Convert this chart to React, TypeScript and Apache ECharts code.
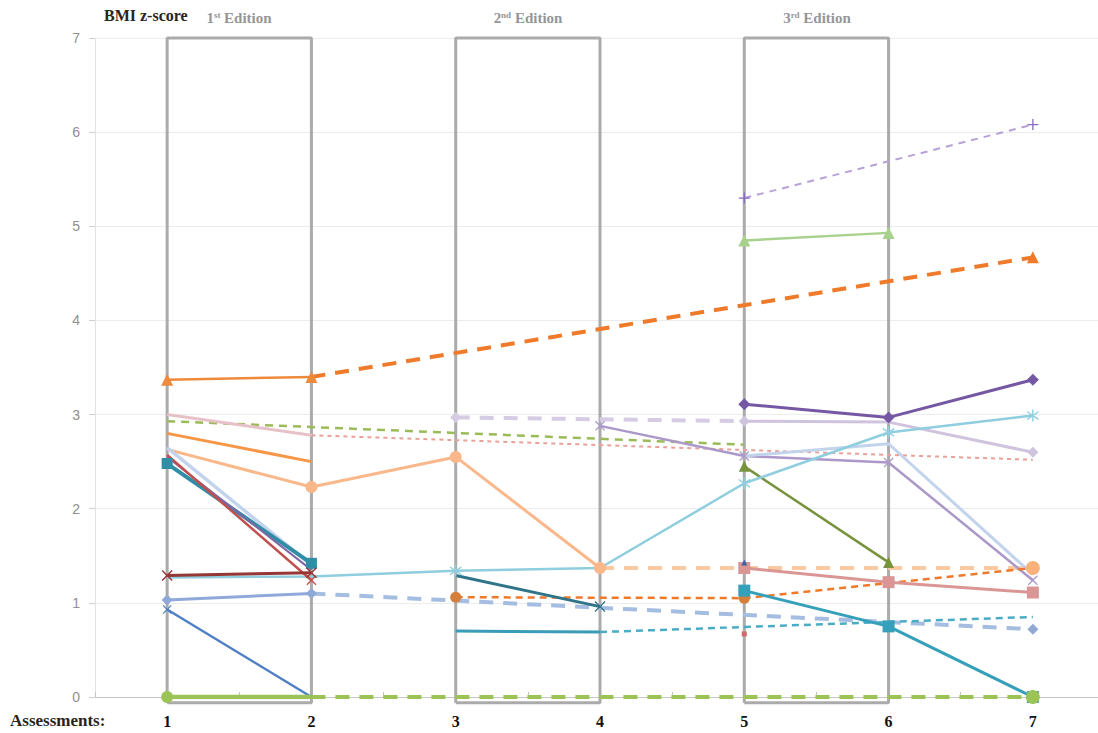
import React, { useEffect, useRef } from "react";
import * as echarts from "echarts";

const N = null;
const assessments = ["1", "2", "3", "4", "5", "6", "7"];
const yTicks = { min: 0, max: 7, step: 1 };

// BMI z-score series (index = assessment 1..7)
const orangeTriEarly = [3.37, 3.4, N, N, N, N, N];
const orangeTriTrend = [N, 3.4, N, N, N, N, 4.67];
const lavenderPlus = [N, N, N, N, 5.3, N, 6.08];
const greenTri = [N, N, N, N, 4.85, 4.93, N];
const purpleDiamond = [N, N, N, N, 3.11, 2.97, 3.37];
const cyanStar = [1.27, 1.28, 1.34, 1.37, 2.27, 2.81, 2.99];
const lavenderTrend = [N, N, 2.97, N, 2.93, N, N];
const lavenderDiamond = [N, N, N, N, 2.93, 2.92, 2.6];
const pinkEarly = [3.0, 2.78, N, N, N, N, N];
const pinkTrend = [N, 2.78, N, N, N, N, 2.52];
const greenTrend = [2.93, N, N, N, 2.68, N, N];
const oliveTri = [N, N, N, N, 2.45, 1.43, N];
const orangeLine = [2.8, 2.5, N, N, N, N, N];
const peachCircle = [2.63, 2.23, 2.55, 1.37, N, N, N];
const peachTrend = [N, N, N, 1.37, N, N, 1.37];
const lightBlueEarly = [2.65, 1.4, N, N, N, N, N];
const purpleEarly = [2.55, 1.35, N, N, N, N, N];
const redEarly = [2.57, 1.24, N, N, N, N, N];
const tealSquareEarly = [2.48, 1.42, N, N, N, N, N];
const maroonX = [1.29, 1.32, N, N, N, N, N];
const periDiamond = [1.03, 1.1, N, N, N, N, N];
const periTrend = [N, 1.1, N, N, N, N, 0.72];
const blueLine = [0.93, 0.0, N, N, N, N, N];
const darkTealX = [N, N, 1.29, 0.96, N, N, N];
const orangeCircleTrend = [N, N, 1.06, N, 1.05, N, 1.37];
const tealFlat = [N, N, 0.7, 0.69, N, N, N];
const tealTrend = [N, N, N, 0.69, N, N, 0.85];
const tealSquareLate = [N, N, N, N, 1.13, 0.75, 0.0];
const roseSquare = [N, N, N, N, 1.37, 1.22, 1.11];
const purpleLate = [N, N, N, 2.88, 2.56, 2.49, 1.24];
const lightBlueLate = [N, N, N, N, 2.56, 2.69, 1.3];
const greenCircle = [0.0, 0.0, N, N, N, N, N];
const greenCircleTrend = [N, 0.0, N, N, N, N, 0.0];
const redDot = [N, N, N, N, 0.67, N, N];
const navyDot = [N, N, N, N, 1.43, N, N];

const editions = ["1st Edition", "2nd Edition", "3rd Edition"];
const editionSpans = [[0, 1], [2, 3], [4, 5]];

const PLUS = "path://M4.4,0H5.6V4.4H10V5.6H5.6V10H4.4V5.6H0V4.4H4.4Z";
const XMARK = "path://M0,0.9L0.9,0L5,4.1L9.1,0L10,0.9L5.9,5L10,9.1L9.1,10L5,5.9L0.9,10L0,9.1L4.1,5Z";
const STAR = "path://M4.45,0H5.55V10H4.45Z M0.5,2.3L1.05,1.35L9.5,7.7L8.95,8.65Z M0.5,7.7L1.05,8.65L9.5,2.3L8.95,1.35Z";

type Cfg = {
  data: (number | null)[];
  color: string;
  width: number;
  dash?: number[];
  symbol?: string;
  size?: number;
  marks?: number[];
  markColor?: string;
};

const configs: Cfg[] = [
  { data: greenTrend, color: "#9bbb59", width: 2.5, dash: [8, 6] },
  { data: pinkTrend, color: "#e8a09a", width: 2, dash: [4, 4] },
  { data: pinkEarly, color: "#e6c1c8", width: 3 },
  { data: orangeTriTrend, color: "#ef7b2a", width: 4, dash: [14, 10], symbol: "triangle", size: 12, marks: [6] },
  { data: orangeTriEarly, color: "#ee8a3c", width: 2.5, symbol: "triangle", size: 12, marks: [0, 1] },
  { data: lavenderPlus, color: "#b7a2d8", width: 2, dash: [7, 6], symbol: PLUS, size: 11, marks: [4, 6], markColor: "#8a6cbf" },
  { data: greenTri, color: "#a9d18e", width: 2.5, symbol: "triangle", size: 12, marks: [4, 5] },
  { data: lavenderTrend, color: "#d5cbe3", width: 4, dash: [14, 10], symbol: "diamond", size: 11, marks: [2] },
  { data: lavenderDiamond, color: "#cfc3de", width: 3, symbol: "diamond", size: 11, marks: [4, 6] },
  { data: orangeLine, color: "#f79646", width: 3 },
  { data: peachTrend, color: "#fac9a0", width: 4, dash: [14, 10], symbol: "circle", size: 14, marks: [6], markColor: "#f9b27a" },
  { data: peachCircle, color: "#fab88a", width: 3, symbol: "circle", size: 12, marks: [1, 2, 3] },
  { data: purpleLate, color: "#ab98c9", width: 2.5, symbol: XMARK, size: 10, marks: [3, 4, 5, 6] },
  { data: lightBlueLate, color: "#c2d3ec", width: 3 },
  { data: purpleDiamond, color: "#7458a3", width: 3, symbol: "diamond", size: 12, marks: [4, 5, 6] },
  { data: oliveTri, color: "#77933c", width: 2.5, symbol: "triangle", size: 11, marks: [4, 5] },
  { data: cyanStar, color: "#8fcede", width: 2.5, symbol: STAR, size: 12, marks: [2, 4, 5, 6] },
  { data: lightBlueEarly, color: "#c2d3ec", width: 3.5 },
  { data: tealSquareEarly, color: "#2f8ea6", width: 4, symbol: "rect", size: 11, marks: [0, 1] },
  { data: purpleEarly, color: "#7f65a5", width: 2 },
  { data: redEarly, color: "#c0504d", width: 2.5, symbol: XMARK, size: 10, marks: [1] },
  { data: maroonX, color: "#953735", width: 3, symbol: XMARK, size: 11, marks: [0, 1] },
  { data: periTrend, color: "#a5bde0", width: 4, dash: [14, 10], symbol: "diamond", size: 11, marks: [6], markColor: "#92a9d6" },
  { data: periDiamond, color: "#8fa9d8", width: 3, symbol: "diamond", size: 11, marks: [0, 1] },
  { data: blueLine, color: "#4f7fc4", width: 2.5, symbol: XMARK, size: 9, marks: [0] },
  { data: orangeCircleTrend, color: "#ee7a2b", width: 2.5, dash: [7, 5], symbol: "circle", size: 11, marks: [2, 4], markColor: "#d4803c" },
  { data: darkTealX, color: "#2f7489", width: 3, symbol: XMARK, size: 11, marks: [3] },
  { data: tealTrend, color: "#4bacc6", width: 2.5, dash: [7, 5] },
  { data: tealFlat, color: "#3a9cb8", width: 3 },
  { data: roseSquare, color: "#d99694", width: 3, symbol: "rect", size: 12, marks: [4, 5, 6] },
  { data: tealSquareLate, color: "#36a0ba", width: 3, symbol: "rect", size: 12, marks: [4, 5, 6] },
  { data: greenCircleTrend, color: "#9bc356", width: 4, dash: [14, 10], symbol: "circle", size: 14, marks: [6] },
  { data: greenCircle, color: "#9bc356", width: 4.5, symbol: "circle", size: 12, marks: [0] },
  { data: redDot, color: "#d06a6a", width: 0, symbol: "rect", size: 5, marks: [4] },
  { data: navyDot, color: "#3f5fa8", width: 0, symbol: "triangle", size: 6, marks: [4] },
];

function buildSeries() {
  const boxes = editionSpans.map(([a, b]) => ({
    type: "line",
    data: [[a, -0.06], [a, yTicks.max], [b, yTicks.max], [b, -0.06], [a, -0.06]],
    symbol: "none",
    clip: false,
    lineStyle: { color: "#ababab", width: 3 },
    z: 1,
    silent: true,
  }));
  const lines = configs.map((c) => ({
    type: "line",
    z: 2,
    connectNulls: true,
    symbol: c.symbol || "none",
    symbolSize: c.size || 8,
    showSymbol: !!c.symbol,
    lineStyle: { color: c.color, width: c.width, type: c.dash || "solid", cap: "butt" },
    itemStyle: { color: c.markColor || c.color },
    data: c.data.map((v, j) =>
      v === null ? null : { value: v, symbol: c.marks && c.marks.includes(j) ? c.symbol : "none" }
    ),
  }));
  return [...boxes, ...lines];
}

export default function App() {
  const ref = useRef<HTMLDivElement>(null);
  useEffect(() => {
    if (!ref.current) return;
    const chart = echarts.init(ref.current, undefined, { renderer: "svg" });
    const serif = "'Liberation Serif', 'DejaVu Serif', serif";
    const editionCenters = [239, 528, 817];
    chart.setOption({
      animation: false,
      backgroundColor: "#ffffff",
      grid: { left: 95, right: 0, top: 38, bottom: 36 },
      xAxis: {
        type: "category",
        data: assessments,
        boundaryGap: true,
        axisLine: { lineStyle: { color: "#c4c4c4", width: 1 } },
        axisTick: { show: true, length: 5, inside: true, lineStyle: { color: "#c4c4c4" } },
        axisLabel: { color: "#111", fontFamily: serif, fontWeight: "bold", fontSize: 16, margin: 16 },
        splitLine: { show: false },
      },
      yAxis: {
        type: "value",
        min: yTicks.min,
        max: yTicks.max,
        interval: yTicks.step,
        axisLine: { show: true, lineStyle: { color: "#e2e2e2" } },
        axisTick: { show: true, length: 6, lineStyle: { color: "#d0d0d0" } },
        axisLabel: { color: "#8f8f8f", fontSize: 14, fontFamily: "'Liberation Sans', sans-serif", margin: 15 },
        splitLine: { lineStyle: { color: "#ececec", width: 1 } },
      },
      graphic: [
        {
          type: "text",
          left: 104,
          top: 7,
          style: { text: "BMI z-score", font: `bold 16px ${serif}`, fill: "#2a2420" },
        },
        {
          type: "text",
          left: 10,
          top: 712,
          style: { text: "Assessments:", font: `bold 17px ${serif}`, fill: "#2a2420" },
        },
        ...editions.map((e, i) => {
          const m = e.match(/^(\d)(\w\w) (.*)$/)!;
          return {
            type: "text",
            x: editionCenters[i],
            y: 18,
            style: {
              text: `${m[1]}{sup|${m[2]}} ${m[3]}`,
              rich: { sup: { fontSize: 9, fontWeight: "bold", fontFamily: serif, fill: "#969696", padding: [0, 0, 7, 0] } },
              font: `bold 15px ${serif}`,
              fill: "#969696",
              align: "center",
              verticalAlign: "middle",
            },
          };
        }),
      ],
      series: buildSeries(),
    });
    return () => chart.dispose();
  }, []);
  return (
    <div style={{ position: "fixed", left: 0, top: 0, width: 1098, height: 733, overflow: "hidden", background: "#fff" }}>
      <div ref={ref} style={{ position: "absolute", left: 0, top: 0, width: 1105, height: 733 }} />
    </div>
  );
}
